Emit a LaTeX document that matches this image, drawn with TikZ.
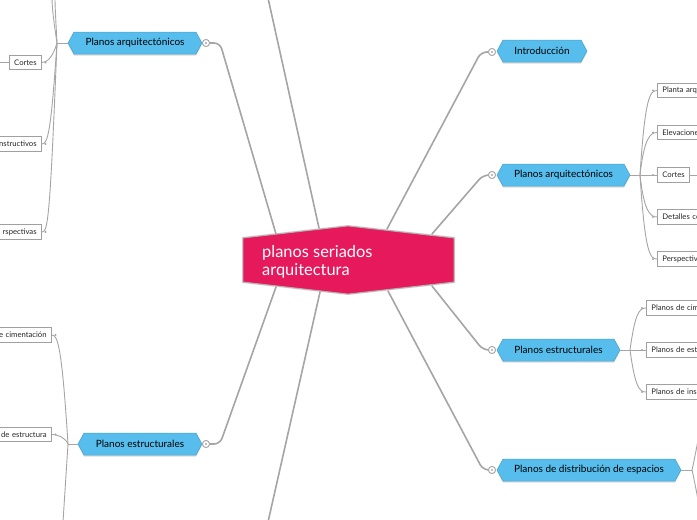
\documentclass[tikz,border=0pt]{standalone}
\usepackage{fontspec}
\setmainfont{Lato}
\usetikzlibrary{calc}
\definecolor{mainred}{HTML}{E5195C}
\definecolor{subblue}{HTML}{56BDEC}
\definecolor{linegray}{HTML}{A5A5A5}
\definecolor{boxgray}{HTML}{A0A0A0}
\tikzset{
  mainline/.style={draw=linegray, line width=1.6pt, line cap=round},
  childline/.style={draw=linegray, line width=0.9pt},
  subtext/.style={font=\fontsize{10}{11}\selectfont, text=black, inner sep=0pt},
  childbox/.style={draw=boxgray, fill=white, line width=0.8pt, minimum height=14.5pt, inner xsep=5pt, inner ysep=0pt, font=\fontsize{7.7}{8}\selectfont, text=black!85},
  collapse/.style={circle, draw=linegray, fill=white, line width=0.8pt, minimum size=7pt, inner sep=0pt},
  dotmark/.style={circle, fill=linegray, minimum size=2.4pt, inner sep=0pt},
}
\newcommand\hexnode[5]{%
  \fill[black!30,opacity=0.45] (#2,#4+1.5) -- (#2+6,#4-9.5) -- (#3-6,#4-9.5) -- (#3,#4+1.5) -- (#3-6,#4+12.5) -- (#2+6,#4+12.5) -- cycle;
  \filldraw[fill=subblue,draw=subblue!85!black,line width=0.5pt] (#2,#4) -- (#2+6,#4-11) -- (#3-6,#4-11) -- (#3,#4) -- (#3-6,#4+11) -- (#2+6,#4+11) -- cycle;
  \node[subtext] (#1) at ({(#2+#3)/2},#4) {#5};
  \coordinate (#1-l) at (#2,#4);
  \coordinate (#1-r) at (#3,#4);
}
\begin{document}
\begin{tikzpicture}[x=1pt,y=-1pt]
\useasboundingbox (0,0) rectangle (697,520);
\clip (0,0) rectangle (697,520);
\fill[white] (0,0) rectangle (697,520);

% root border points
\coordinate (rA) at (319,228);
\coordinate (rB) at (276,234);
\coordinate (rC) at (387,229);
\coordinate (rD) at (432,234);
\coordinate (rE) at (432,286);
\coordinate (rF) at (388,291);
\coordinate (rG) at (320,292);
\coordinate (rH) at (276,287);
\coordinate (offtop) at (268,-2);
\coordinate (offbot) at (268,522);

% collapse markers
\node[collapse] (kLarq) at (206,43) {};
\node[collapse] (kIntro) at (492,52) {};
\node[collapse] (kRarq) at (492,175) {};
\node[collapse] (kRest) at (492,350) {};
\node[collapse] (kDist) at (492,470) {};
\node[collapse] (kLest) at (206,444) {};

% main connectors
\draw[mainline] (rA) -- (offtop);
\draw[mainline] (rG) -- (offbot);
\draw[mainline, rounded corners=6pt] (rB) -- (220,43) -- (kLarq);
\draw[mainline, rounded corners=6pt] (rH) -- (220,444) -- (kLest);
\draw[mainline, rounded corners=6pt] (rC) -- (481,52) -- (kIntro);
\draw[mainline, rounded corners=6pt] (rD) -- (483,175) -- (kRarq);
\draw[mainline, rounded corners=6pt] (rE) -- (483,350) -- (kRest);
\draw[mainline, rounded corners=6pt] (rF) -- (483,470) -- (kDist);
\foreach \k in {kLarq,kIntro,kRarq,kRest,kDist,kLest}{
  \node[collapse] at (\k) {};
  \fill[linegray] (\k) circle (1.1pt);
}

% root node
\filldraw[fill=black!35, draw=none, opacity=0.5] (242,237) -- (348,225) -- (455,237) -- (455,283) -- (348,295) -- (242,283) -- cycle;
\filldraw[fill=mainred, draw=black!30, line width=0.8pt] (243,238) -- (348,226) -- (454,238) -- (454,282) -- (348,294) -- (243,282) -- cycle;
\node[anchor=west, align=left, text=white, inner sep=0pt, font=\fontsize{16.4}{18.5}\selectfont] (root) at (262,262) {planos seriados\\arquitectura};

% sub nodes
\hexnode{Larq}{68}{202}{43}{Planos arquitectónicos}
\hexnode{Lest}{78}{202}{444}{Planos estructurales}
\hexnode{Intro}{497}{587}{51}{Introducción}
\hexnode{Rarq}{497}{630}{175}{Planos arquitectónicos}
\hexnode{Rest}{497}{620}{350}{Planos estructurales}
\hexnode{Dist}{497}{681}{470}{Planos de distribución de espacios}

% branch points
\coordinate (bLarq) at (57,43);
\coordinate (bLest) at (68,444);
\coordinate (bRarq) at (640,175);
\coordinate (bRest) at (630,350);
\coordinate (bDist) at (692,470);
\draw[childline] (Larq-l) -- (bLarq);
\draw[childline] (Lest-l) -- (bLest);
\draw[childline] (Rarq-r) -- (bRarq);
\draw[childline] (Rest-r) -- (bRest);
\draw[childline] (Dist-r) -- (bDist);

% left arq children
\node[childbox, anchor=east] (cLcortes) at (42,62.5) {Cortes};
\node[childbox, anchor=east, text width=60pt, align=right] (cLdet) at (42,144) {nstructivos};
\node[childbox, anchor=east, text width=60pt, align=right] (cLper) at (42,232) {rspectivas};
\coordinate (offLa) at (52,-2);
\coordinate (offLb) at (55,-2);
\coordinate (offLc) at (-2,62.5);
\draw[childline] (bLarq) .. controls +(-3,-20) and +(0,10) .. (offLa);
\draw[childline] (bLarq) .. controls +(-1,-20) and +(0,10) .. (offLb);
\draw[childline] (bLarq) .. controls +(-4,14) and +(5,0) .. (cLcortes.east);
\draw[childline] (bLarq) .. controls +(-6,88) and +(6,0) .. (cLdet.east);
\draw[childline] (bLarq) .. controls +(-7,175) and +(6,0) .. (cLper.east);
\draw[childline] (cLcortes.west) -- (offLc);

% left estruct children
\node[childbox, anchor=east, text width=60pt, align=right] (cLcim) at (52,335) {e cimentación};
\node[childbox, anchor=east, text width=60pt, align=right] (cLestr) at (52,434.5) {de estructura};
\coordinate (offLd) at (63,522);
\draw[childline] (bLest) .. controls +(-6,-95) and +(6,0) .. (cLcim.east);
\draw[childline] (bLest) .. controls +(-3,-7) and +(5,0) .. (cLestr.east);
\draw[childline] (bLest) -- (offLd);

% right arq children
\node[childbox, anchor=west, text width=60pt, align=left] (cRpla) at (657,90.5) {Planta arq};
\node[childbox, anchor=west, text width=60pt, align=left] (cRele) at (657,132.5) {Elevacione};
\node[childbox, anchor=west] (cRcor) at (657,175) {Cortes};
\node[childbox, anchor=west, text width=60pt, align=left] (cRdet) at (657,217) {Detalles co};
\node[childbox, anchor=west, text width=60pt, align=left] (cRper) at (657,259) {Perspectiv};
\coordinate (offRa) at (699,175);
\draw[childline] (bRarq) .. controls +(5,-78) and +(-7,0) .. (cRpla.west);
\draw[childline] (bRarq) .. controls +(4,-36) and +(-7,0) .. (cRele.west);
\draw[childline] (bRarq) -- (cRcor.west);
\draw[childline] (bRarq) .. controls +(4,36) and +(-7,0) .. (cRdet.west);
\draw[childline] (bRarq) .. controls +(5,78) and +(-7,0) .. (cRper.west);
\draw[childline] (cRcor.east) -- (offRa);

% right estruct children
\node[childbox, anchor=west, text width=60pt, align=left] (cRcim) at (646,308) {Planos de cim};
\node[childbox, anchor=west, text width=60pt, align=left] (cRest) at (646,350) {Planos de est};
\node[childbox, anchor=west, text width=60pt, align=left] (cRins) at (646,392) {Planos de ins};
\draw[childline] (bRest) .. controls +(5,-36) and +(-7,0) .. (cRcim.west);
\draw[childline] (bRest) -- (cRest.west);
\draw[childline] (bRest) .. controls +(5,36) and +(-7,0) .. (cRins.west);

% distribution children (off canvas)
\coordinate (offDa) at (700,430);
\coordinate (offDb) at (700,510);
\draw[childline] (bDist) .. controls +(2,-8) and +(-2,10) .. (offDa);
\draw[childline] (bDist) .. controls +(2,8) and +(-2,-10) .. (offDb);

% arrow dots near child boxes
\foreach \c in {cRpla,cRele,cRcor,cRdet,cRper,cRcim,cRest,cRins}{
  \node[dotmark] at ($(\c.west)+(-4,0)$) {};
}
\foreach \c in {cLcortes,cLdet,cLper,cLcim,cLestr}{
  \node[dotmark] at ($(\c.east)+(3.5,0)$) {};
}
\end{tikzpicture}
\end{document}
